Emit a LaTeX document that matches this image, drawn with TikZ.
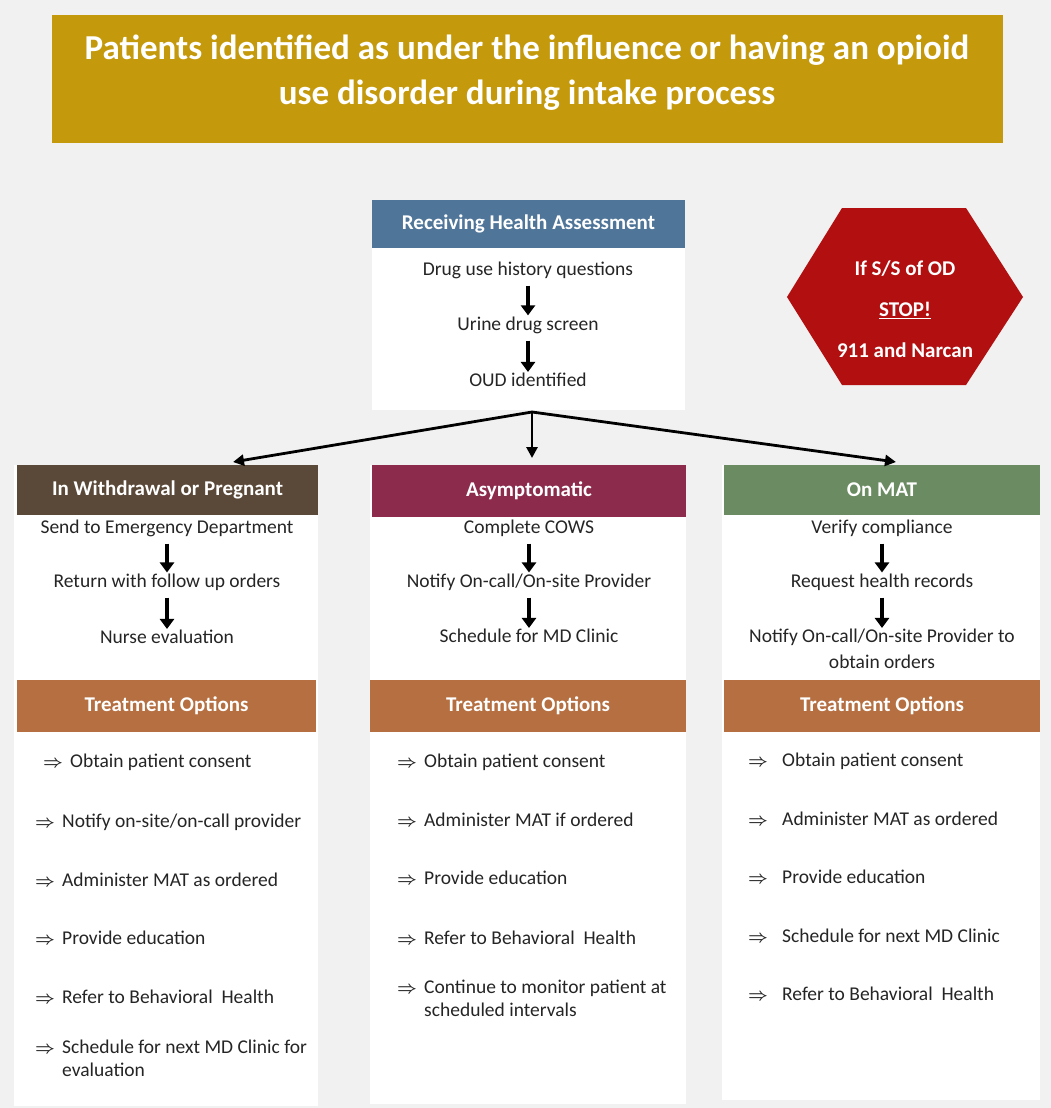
\documentclass[tikz,border=0pt]{standalone}
\usepackage{fontspec}
\setmainfont{Carlito}
\usetikzlibrary{arrows.meta}

\definecolor{pagegray}{HTML}{F1F1F1}
\definecolor{bannergold}{HTML}{C49A0C}
\definecolor{rhablue}{HTML}{4F7599}
\definecolor{wdbrown}{HTML}{5A4838}
\definecolor{asymaroon}{HTML}{8C2B4B}
\definecolor{matgreen}{HTML}{6B8C62}
\definecolor{txorange}{HTML}{B56F41}
\definecolor{stopred}{HTML}{B10F10}
\definecolor{textgray}{HTML}{252525}

\begin{document}
\begin{tikzpicture}[x=1pt,y=-1pt,
    banner/.style={text=white, font=\bfseries\fontsize{35}{45}\selectfont, align=center},
    header/.style={rectangle, text=white, font=\bfseries\fontsize{21}{24}\selectfont, minimum height=50pt, inner sep=0pt},
    steptext/.style={font=\fontsize{19.5}{26}\selectfont, text=textgray, inner sep=0pt, align=center},
    item/.style={font=\fontsize{19.5}{23}\selectfont, text=textgray, inner sep=0pt, anchor=west, align=left},
    downarrow/.style={line width=4.5pt, -{Triangle[length=10pt,width=14pt]}, shorten <=7pt, shorten >=1pt},
    fanarrow/.style={line width=2.8pt, -{Triangle[length=11pt,width=11pt]}}]
   % page and boxes
   \useasboundingbox (0,0) rectangle (1051,1108);
   \fill[pagegray] (0,0) rectangle (1051,1108);
   \fill[bannergold] (52,15) rectangle (1003,143);
   \fill[white] (372,200) rectangle (685,410);
   \fill[white] (14,465) rectangle (318,1106);
   \fill[white] (370,465) rectangle (686,1104);
   \fill[white] (722,465) rectangle (1040,1100);
   \fill[stopred] (787,297) -- (842,208) -- (966,208) -- (1023,297) -- (966,385) -- (842,385) -- cycle;

   \node[banner] (title) at (527,73) {Patients identified as under the influence or having an opioid\\use disorder during intake process};

   % assessment
   \node[header, fill=rhablue, minimum width=313pt, minimum height=48pt] (rha) at (528.5,224) {Receiving Health Assessment};
   \node[steptext] (A1) at (528,270) {Drug use history questions};
   \node[steptext] (A2) at (528,325) {Urine drug screen};
   \node[steptext] (A3) at (528,380) {OUD identified};
   \draw[downarrow] (A1) to (A2);
   \draw[downarrow] (A2) to (A3);

   \node[text=white, font=\bfseries\fontsize{21}{41}\selectfont, align=center] (stop) at (905,309) {If S/S of OD\\\underline{STOP!}\\911 and Narcan};

   % three paths
   \node[header, fill=wdbrown, minimum width=301pt] (wd) at (167.5,490) {In Withdrawal or Pregnant};
   \node[header, fill=asymaroon, minimum width=314pt, minimum height=52pt] (asym) at (529,491) {Asymptomatic};
   \node[header, fill=matgreen, minimum width=316pt] (mat) at (882,490) {On MAT};

   \coordinate (split) at (532,412);
   \coordinate (tipL) at (233,462);
   \coordinate (tipM) at (532,458);
   \coordinate (tipR) at (896,462);
   \draw[fanarrow] (split) to (tipL);
   \draw[fanarrow] (split) to (tipM);
   \draw[fanarrow] (split) to (tipR);

   \node[steptext] (L1) at (167,528) {Send to Emergency Department};
   \node[steptext] (L2) at (167,582) {Return with follow up orders};
   \node[steptext] (L3) at (167,637) {Nurse evaluation};
   \draw[downarrow] (L1) to (L2);
   \draw[downarrow] (L2) to (L3);

   \node[steptext] (M1) at (529,528) {Complete COWS};
   \node[steptext] (M2) at (529,582) {Notify On-call/On-site Provider};
   \node[steptext] (M3) at (529,636) {Schedule for MD Clinic};
   \draw[downarrow] (M1) to (M2);
   \draw[downarrow] (M2) to (M3);

   \node[steptext] (R1) at (882,528) {Verify compliance};
   \node[steptext] (R2) at (882,582) {Request health records};
   \node[steptext] (R3) at (882,649) {Notify On-call/On-site Provider to\\obtain orders};
   \draw[downarrow] (R1) to (R2);
   \draw[downarrow] (R2) to (R3);

   % treatment options
   \node[header, fill=txorange, minimum width=299pt, minimum height=52pt] (txL) at (166.5,706) {Treatment Options};
   \node[header, fill=txorange, minimum width=316pt, minimum height=52pt] (txM) at (528,706) {Treatment Options};
   \node[header, fill=txorange, minimum width=316pt, minimum height=52pt] (txR) at (882,706) {Treatment Options};

   \node[item] (tl1) at (43,762) {\makebox[27pt][l]{\boldmath\fontsize{17}{17}\selectfont$\Rightarrow$}Obtain patient consent};
   \node[item] (tl2) at (35,822) {\makebox[27pt][l]{\boldmath\fontsize{17}{17}\selectfont$\Rightarrow$}Notify on-site/on-call provider};
   \node[item] (tl3) at (35,880) {\makebox[27pt][l]{\boldmath\fontsize{17}{17}\selectfont$\Rightarrow$}Administer MAT as ordered};
   \node[item] (tl4) at (35,938) {\makebox[27pt][l]{\boldmath\fontsize{17}{17}\selectfont$\Rightarrow$}Provide education};
   \node[item] (tl5) at (35,997) {\makebox[27pt][l]{\boldmath\fontsize{17}{17}\selectfont$\Rightarrow$}Refer to Behavioral\ \ Health};
   \node[item] (tl6) at (35,1058.5) {\makebox[27pt][l]{\boldmath\fontsize{17}{17}\selectfont$\Rightarrow$}Schedule for next MD Clinic for\\\hspace*{27pt}evaluation};

   \node[item] (tm1) at (397,762) {\makebox[27pt][l]{\boldmath\fontsize{17}{17}\selectfont$\Rightarrow$}Obtain patient consent};
   \node[item] (tm2) at (397,820) {\makebox[27pt][l]{\boldmath\fontsize{17}{17}\selectfont$\Rightarrow$}Administer MAT if ordered};
   \node[item] (tm3) at (397,878) {\makebox[27pt][l]{\boldmath\fontsize{17}{17}\selectfont$\Rightarrow$}Provide education};
   \node[item] (tm4) at (397,938) {\makebox[27pt][l]{\boldmath\fontsize{17}{17}\selectfont$\Rightarrow$}Refer to Behavioral\ \ Health};
   \node[item] (tm5) at (397,998.5) {\makebox[27pt][l]{\boldmath\fontsize{17}{17}\selectfont$\Rightarrow$}Continue to monitor patient at\\\hspace*{27pt}scheduled intervals};

   \node[item] (tr1) at (748,761) {\makebox[34pt][l]{\boldmath\fontsize{17}{17}\selectfont$\Rightarrow$}Obtain patient consent};
   \node[item] (tr2) at (748,819) {\makebox[34pt][l]{\boldmath\fontsize{17}{17}\selectfont$\Rightarrow$}Administer MAT as ordered};
   \node[item] (tr3) at (748,877) {\makebox[34pt][l]{\boldmath\fontsize{17}{17}\selectfont$\Rightarrow$}Provide education};
   \node[item] (tr4) at (748,936) {\makebox[34pt][l]{\boldmath\fontsize{17}{17}\selectfont$\Rightarrow$}Schedule for next MD Clinic};
   \node[item] (tr5) at (748,994) {\makebox[34pt][l]{\boldmath\fontsize{17}{17}\selectfont$\Rightarrow$}Refer to Behavioral\ \ Health};
 \end{tikzpicture}
\end{document}
